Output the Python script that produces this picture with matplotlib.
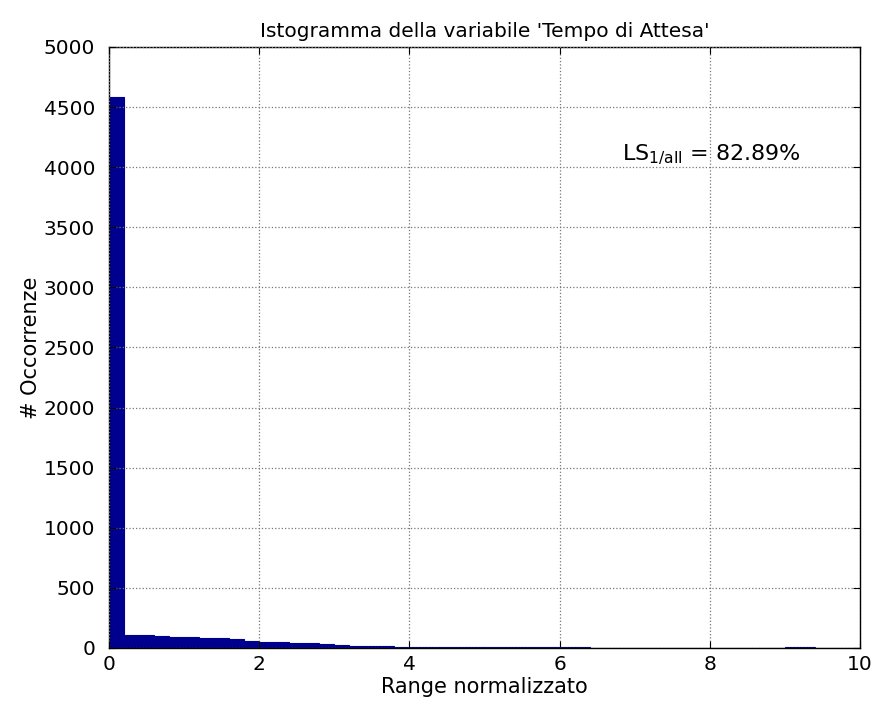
import numpy as np
import matplotlib
matplotlib.use("Agg")
import matplotlib.pyplot as plt

plt.rcParams['font.family'] = ['DejaVu Sans']

# Histogram data (bin width 0.2 over 0..10)
bin_edges = [round(0.2 * i, 1) for i in range(51)]
counts = [4580, 110, 105, 100, 95, 90, 85, 80, 75, 55,
          52, 50, 45, 40, 30, 22, 18, 16, 14, 12,
          12, 10, 8, 6, 5, 5, 6, 10, 12, 6,
          4, 4, 3, 3, 3, 3, 3, 2, 2, 2,
          2, 2, 2, 2, 2, 6, 8, 3, 2, 2]
title = "Istogramma della variabile 'Tempo di Attesa'"
xlabel = "Range normalizzato"
ylabel = "# Occorrenze"
xticks = [0, 2, 4, 6, 8, 10]
yticks = list(range(0, 5001, 500))

fig = plt.figure(figsize=(8.82, 7.13), dpi=100)
ax = fig.add_axes([0.1236, 0.0912, 0.8514, 0.8429])

lefts = bin_edges[:-1]
widths = [bin_edges[i + 1] - bin_edges[i] for i in range(len(lefts))]
ax.bar(lefts, counts, width=widths, align='edge', color='#00008f',
       edgecolor='#00008f', linewidth=0.8)

ax.set_xlim(0, 10)
ax.set_ylim(0, 5000)
ax.set_xticks(xticks)
ax.set_yticks(yticks)
ax.tick_params(direction='in', top=True, right=True, labelsize=14.5, length=5)
ax.tick_params(axis='y', pad=10)
ax.tick_params(axis='x', pad=5)
ax.grid(True, linestyle=':', color='#777777', linewidth=0.9)
ax.set_axisbelow(False)
for s in ax.spines.values():
    s.set_linewidth(1.0)

ax.set_title(title, fontsize=14.5, pad=7)
ax.set_xlabel(xlabel, fontsize=15, labelpad=2)
ax.set_ylabel(ylabel, fontsize=15, labelpad=2)

ax.text(6.83, 4060, r'LS$_{\mathregular{1/all}}$ = 82.89%', fontsize=16,
        ha='left', va='baseline')

fig.savefig('out.png', dpi=100)
